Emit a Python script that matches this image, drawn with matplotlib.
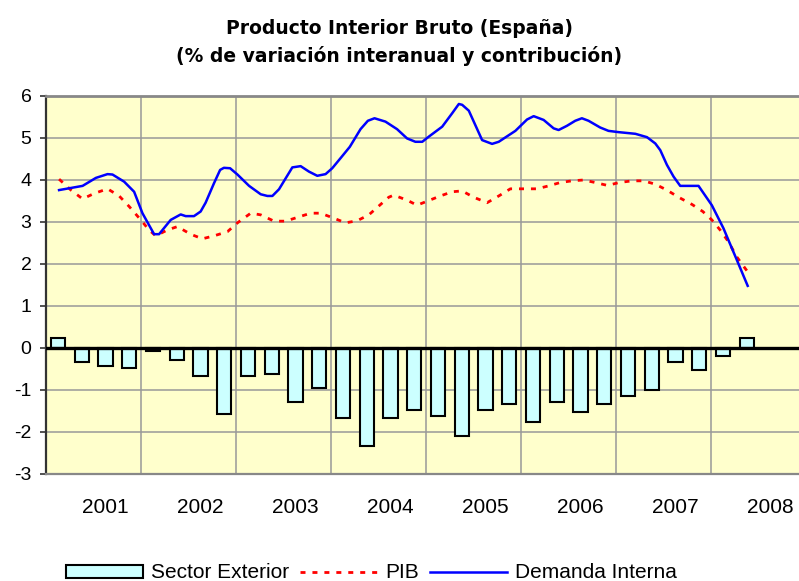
import matplotlib
matplotlib.use("Agg")
import matplotlib.pyplot as plt
from matplotlib.patches import Patch
from matplotlib.lines import Line2D

plt.rcParams['font.family'] = ['Liberation Sans', 'DejaVu Sans']
plt.rcParams['lines.scale_dashes'] = False

# ---- data ----
title_1 = "Producto Interior Bruto (España)"
title_2 = "(% de variación interanual y contribución)"
years = ["2001", "2002", "2003", "2004", "2005", "2006", "2007", "2008"]

# Sector Exterior contribution, quarterly (index 0..29)
sector_exterior = [0.25, -0.33, -0.44, -0.48, -0.06, -0.29, -0.67, -1.58,
                   -0.67, -0.62, -1.29, -0.96, -1.66, -2.33, -1.66, -1.48,
                   -1.62, -2.10, -1.48, -1.34, -1.77, -1.28, -1.53, -1.34,
                   -1.15, -1.01, -0.33, -0.52, -0.19, 0.25]

# Demanda Interna (time in quarter index units, value)
di_t = [0.05, 1.04, 1.6, 2.09, 2.3, 2.79, 3.21, 3.56, 4.05, 4.26, 4.75, 5.17,
        5.38, 5.73, 6.01, 6.22, 6.57, 6.83, 6.99, 7.25, 7.56, 8.05, 8.54, 8.82,
        9.03, 9.31, 9.59, 9.87, 10.22, 10.57, 10.92, 11.27, 11.55, 11.9, 12.29,
        12.74, 13.05, 13.33, 13.79, 14.28, 14.7, 15.05, 15.34, 15.61, 16.18,
        16.6, 16.88, 17.02, 17.3, 17.86, 18.28, 18.56, 19.26, 19.75, 20.03,
        20.45, 20.87, 21.08, 21.43, 21.78, 22.06, 22.34, 22.83, 23.18, 23.6,
        24.31, 24.8, 25.15, 25.36, 25.64, 25.92, 26.2, 26.97, 27.53, 28.02,
        28.58, 29.04]
di_v = [3.76, 3.86, 4.05, 4.14, 4.13, 3.96, 3.72, 3.21, 2.71, 2.71, 3.05, 3.18,
        3.14, 3.14, 3.25, 3.46, 3.92, 4.24, 4.29, 4.28, 4.13, 3.86, 3.66, 3.62,
        3.62, 3.78, 4.04, 4.30, 4.33, 4.20, 4.10, 4.14, 4.28, 4.52, 4.79,
        5.21, 5.41, 5.47, 5.39, 5.21, 4.99, 4.91, 4.91, 5.03, 5.27,
        5.59, 5.81, 5.79, 5.65, 4.95, 4.86, 4.91, 5.17, 5.44, 5.52,
        5.43, 5.23, 5.19, 5.29, 5.41, 5.47, 5.41, 5.25, 5.17, 5.14,
        5.10, 5.02, 4.87, 4.71, 4.36, 4.08, 3.86, 3.86, 3.40, 2.85,
        2.10, 1.48]

# PIB
pib_t = [0.05, 0.55, 1.04, 1.53, 2.09, 2.58, 3.0, 3.49, 3.84, 4.12, 4.61, 5.03,
         5.59, 6.08, 6.57, 7.14, 7.56, 8.12, 8.54, 9.1, 9.59, 10.08, 10.64,
         11.06, 11.62, 12.11, 12.6, 13.09, 13.51, 13.93, 14.14, 14.7, 15.12,
         15.61, 16.1, 16.6, 17.02, 17.5, 18.07, 18.56, 19.05, 19.61, 20.17,
         20.66, 21.15, 21.64, 22.13, 22.62, 23.14, 23.63, 24.17, 24.66, 25.15,
         25.64, 26.13, 26.69, 27.15, 27.53, 27.88, 28.23, 28.58, 29.07]
pib_v = [4.02, 3.76, 3.55, 3.68, 3.79, 3.62, 3.37, 3.05, 2.81, 2.67, 2.81, 2.89,
         2.71, 2.60, 2.67, 2.77, 2.98, 3.21, 3.17, 3.02, 3.02, 3.11, 3.21,
         3.21, 3.09, 2.98, 3.03, 3.17, 3.38, 3.59, 3.64, 3.52, 3.40,
         3.51, 3.62, 3.72, 3.74, 3.59, 3.46, 3.62, 3.79, 3.79, 3.79,
         3.86, 3.94, 3.98, 4.00, 3.94, 3.87, 3.94, 3.98, 3.98, 3.90,
         3.76, 3.59, 3.42, 3.25, 3.05, 2.81, 2.53, 2.17, 1.79]

# ---- figure ----
W, H = 799, 581
fig = plt.figure(figsize=(W / 100, H / 100), dpi=100)
ax = fig.add_axes([46 / W, 1 - 474 / H, 1 - 46 / W, (474 - 96) / H])
ax.set_facecolor('#FFFFCC')

n = len(sector_exterior)
ax.set_xlim(-0.5, 31.2)
ax.set_ylim(-3, 6)

# grid
for y in range(-3, 7):
    ax.axhline(y, color='#999999', lw=1.1, zorder=1)
for k in range(7):
    ax.axvline(3.5 + 4 * k, color='#999999', lw=1.1, zorder=1)

ax.bar(range(n), sector_exterior, width=0.6, color='#CCFFFF',
       edgecolor='black', linewidth=1.5, zorder=2)
ax.axhline(0, color='black', lw=2.4, zorder=3)

ax.plot(pib_t, pib_v, color='#FF0000', lw=2.0, linestyle=(0, (3.6, 5.0)),
        zorder=4)
ax.plot(di_t, di_v, color='#0000FF', lw=1.8, zorder=5)

# axes styling
ax.spines['right'].set_visible(False)
ax.spines['top'].set_color('#888888')
ax.spines['top'].set_linewidth(2.0)
ax.spines['bottom'].set_color('#888888')
ax.spines['bottom'].set_linewidth(1.6)
ax.spines['left'].set_color('#333333')
ax.spines['left'].set_linewidth(1.6)

ax.set_yticks(range(-3, 7))
ax.set_yticklabels([str(v) for v in range(-3, 7)])
ax.tick_params(axis='y', direction='out', length=4.5, width=1.2,
               color='#333333', pad=6, labelsize=14)
ax.set_xticks([2 + 4 * k for k in range(len(years))])
ax.set_xticklabels(years)
ax.tick_params(axis='x', length=0, pad=17, labelsize=15)

# titles
fig.text(0.5, 1 - 28 / H, title_1, ha='center', va='center',
         fontsize=13.5, fontweight='bold', family=['DejaVu Sans'])
fig.text(0.5, 1 - 56 / H, title_2, ha='center', va='center',
         fontsize=13.5, fontweight='bold', family=['DejaVu Sans'])

# legend
handles = [Patch(facecolor='#CCFFFF', edgecolor='black', linewidth=1.5),
           Line2D([], [], color='#FF0000', lw=2.0, linestyle=(0, (3.6, 5.0))),
           Line2D([], [], color='#0000FF', lw=1.8)]
labels = ["Sector Exterior", "PIB", "Demanda Interna"]
fig.legend(handles, labels, loc='center', bbox_to_anchor=(371.5 / W, 1 - 573 / H),
           ncol=3, frameon=False, fontsize=15, handlelength=3.7,
           handleheight=0.57, handletextpad=0.4, columnspacing=0.5,
           borderpad=0, borderaxespad=0)

fig.savefig("out.png", dpi=100)
